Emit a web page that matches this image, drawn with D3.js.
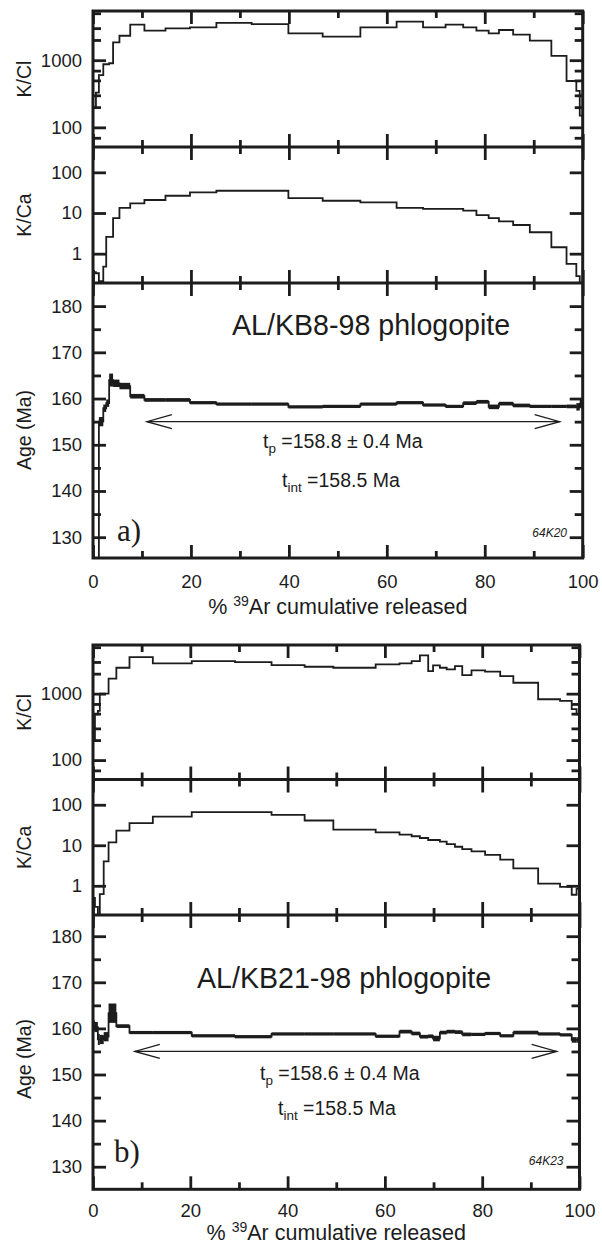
<!DOCTYPE html>
<html>
<head>
<meta charset="utf-8">
<script src="https://cdn.jsdelivr.net/npm/d3@7"></script>
<style>
  body { margin: 0; background: #fff; }
  svg { display: block; }
  text { fill: #1c1c1c; }
</style>
</head>
<body>
<svg id="chart" width="602" height="1247" font-family="'Liberation Sans', Arial, sans-serif"></svg>
<script>
// tick values
const xMajor = [0, 20, 40, 60, 80, 100];
const xMinor = [10, 30, 50, 70, 90];
const kclMajor = [100, 1000];
const kclMinor = [70, 200, 300, 500, 700, 2000, 3000, 5000];
const kcaMajor = [1, 10, 100];
const ageMajor = [130, 140, 150, 160, 170, 180];
const ageMinor = [135, 145, 155, 165, 175];

// sample a) AL/KB8-98 : step edges in % 39Ar, then one value per step
const stepsA = [0, 0.6, 1.2, 2.1, 2.7, 3.3, 4.1, 5.4, 7.6, 10.5, 14.8, 19.8, 25.2, 32.4, 39.9, 46.9, 54.6, 62.0, 67.4, 72.0,
  75.6, 78.3, 80.8, 82.9, 85.8, 89.2, 93.6, 96.7, 98.7, 99.4, 100];
const kclA = [200, 330, 600, 870, 870, 900, 1840, 2310, 3390, 2750, 2980, 3070, 3590, 3450, 2510, 2240, 3090, 3760, 3070, 3390,
  3070, 2750, 2510, 2815, 2400, 1950, 1160, 490, 350, 150];
const kcaA = [0.35, 0.33, 0.21, 0.48, 2.6, 2.6, 7.5, 13.3, 17.3, 20.9, 26.6, 32, 35.3, 35.3, 23.3, 20, 18.3, 13.3, 12.6, 12.6,
  11.4, 8.9, 7.5, 6.25, 5.07, 3.36, 1.44, 0.56, 0.28, 0.15];
const ageA = [100, 115, 155.0, 157.9, 159.0, 164.0, 163.3, 162.7, 160.5, 159.7, 159.7, 159.1, 158.8, 158.8, 158.2, 158.3, 158.8, 159.1, 158.6, 158.3,
  159.0, 159.3, 158.2, 158.9, 158.5, 158.3, 158.3, 158.3, 158.2, 158.9];
const errA = [3, 3, 1.0, 0.8, 0.8, 1.4, 0.8, 0.7, 0.5, 0.4, 0.4, 0.35, 0.35, 0.35, 0.35, 0.35, 0.35, 0.35, 0.35, 0.35,
  0.4, 0.4, 0.5, 0.4, 0.4, 0.35, 0.35, 0.4, 0.8, 1.0];

// sample b) AL/KB21-98
const stepsB = [0, 0.4, 1.0, 1.4, 2.2, 3.2, 4.8, 7.5, 12.3, 20.3, 29.2, 36.7, 43.5, 49.4, 58.1, 63.0, 65.5, 67.2, 68.9, 69.9,
  71.3, 72.7, 74.4, 75.9, 77.8, 80.6, 83.7, 86.4, 91.5, 96.0, 98.4, 99.4, 100];
const kclB = [200, 490, 550, 1000, 1000, 1680, 2455, 3550, 2860, 3090, 2990, 2690, 2540, 2455, 2760, 2860, 3090, 3770, 2190, 2660,
  2455, 2320, 2600, 1905, 2240, 2140, 1840, 1460, 824, 777, 583, 490];
const kcaB = [0.5, 0.3, 0.17, 0.62, 4.0, 11.8, 23, 35, 51, 65.6, 65.6, 56, 40.8, 24.4, 20.9, 18.3, 16.7, 15.1, 13.5, 13.5,
  12.3, 10.7, 9.2, 8.0, 7.05, 5.8, 4.4, 2.7, 1.13, 0.94, 0.6, 0.85];
const ageB = [160.5, 160.3, 157.6, 157.6, 158.2, 163.3, 160.5, 159.1, 159.1, 158.4, 158.2, 158.8, 158.8, 158.8, 158.3, 159.3, 158.9, 158.2, 158.3, 157.8,
  159.1, 159.3, 159.2, 158.7, 158.7, 158.9, 158.4, 159.1, 158.8, 158.6, 157.5, 157.5];
const errB = [1.2, 1.1, 1.2, 1.0, 1.0, 2.1, 0.4, 0.35, 0.35, 0.35, 0.35, 0.35, 0.35, 0.35, 0.35, 0.4, 0.4, 0.4, 0.4, 0.6,
  0.4, 0.4, 0.4, 0.4, 0.35, 0.35, 0.35, 0.4, 0.35, 0.35, 0.6, 0.6];

const sampleNames = ["AL/KB8-98 phlogopite", "AL/KB21-98 phlogopite"];
const plateauAges = ["158.8 ± 0.4", "158.6 ± 0.4"];
const integratedAges = ["158.5", "158.5"];
const runIds = ["64K20", "64K23"];
const panelTags = ["a)", "b)"];
const plateauSpan = [[11, 95.3, 155], [8.6, 95.3, 155]];

const kclDomain = [51, 5400];
const kcaDomain = [0.19, 420];

const ink = "#1c1c1c";
const svg = d3.select("#chart");

// layout of the two figures
const figs = [
  { l: 93, r: 582.7, t: 11, k1: 147, k2: 283, b: 558, ageDomain: [125.5, 185],
    titleX: 232, titleY: 335, tpX: 263, tpY: 448, tintX: 282, tintY: 487, tagX: 117, tagY: 541,
    idX: 567, idY: 537, xlabY: 588, xtitleY: 614, ageLabY: 430 },
  { l: 93, r: 579.5, t: 645, k1: 779.5, k2: 915, b: 1189.3, ageDomain: [125.1, 184.6],
    titleX: 197, titleY: 988, tpX: 260, tpY: 1080, tintX: 278, tintY: 1115, tagX: 114, tagY: 1162,
    idX: 563.5, idY: 1165, xlabY: 1217, xtitleY: 1240, ageLabY: 1059 }
];
const series = [
  { steps: stepsA, kcl: kclA, kca: kcaA, age: ageA, err: errA },
  { steps: stepsB, kcl: kclB, kca: kcaB, age: ageB, err: errB }
];

function styleAxis(sel, w) {
  sel.select(".domain").remove();
  sel.selectAll("line").attr("stroke", ink).attr("stroke-width", w);
  sel.attr("font-family", null).attr("font-size", 18.5);
  sel.selectAll("text").attr("fill", ink);
}

function drawFigure(f, d, k) {
  const g = svg.append("g");
  const x = d3.scaleLinear().domain([0, 100]).range([f.l, f.r]);
  const yKcl = d3.scaleLog().domain(kclDomain).range([f.k1, f.t]);
  const yKca = d3.scaleLog().domain(kcaDomain).range([f.k2, f.k1]);
  const yAge = d3.scaleLinear().domain(f.ageDomain).range([f.b, f.k2]);

  const panels = [
    { y: yKcl, top: f.t, bot: f.k1, major: kclMajor, minor: kclMinor, label: "K/Cl", ly: (f.t + f.k1) / 2, vals: d.kcl },
    { y: yKca, top: f.k1, bot: f.k2, major: kcaMajor, minor: [], label: "K/Ca", ly: (f.k1 + f.k2) / 2, vals: d.kca },
    { y: yAge, top: f.k2, bot: f.b, major: ageMajor, minor: ageMinor, label: "Age (Ma)", ly: f.ageLabY }
  ];

  panels.forEach((p, i) => {
    const id = `clip${k}${i}`;
    g.append("clipPath").attr("id", id).append("rect")
      .attr("x", f.l).attr("y", p.top).attr("width", f.r - f.l).attr("height", p.bot - p.top);

    // inward ticks on all four sides
    g.append("g").attr("transform", `translate(0,${p.bot})`)
      .call(d3.axisBottom(x).tickValues(xMajor).tickSize(-13).tickFormat("")).call(styleAxis, 2.8);
    g.append("g").attr("transform", `translate(0,${p.bot})`)
      .call(d3.axisBottom(x).tickValues(xMinor).tickSize(-7).tickFormat("")).call(styleAxis, 2.8);
    g.append("g").attr("transform", `translate(0,${p.top})`)
      .call(d3.axisTop(x).tickValues(xMajor).tickSize(-13).tickFormat("")).call(styleAxis, 2.8);
    g.append("g").attr("transform", `translate(0,${p.top})`)
      .call(d3.axisTop(x).tickValues(xMinor).tickSize(-7).tickFormat("")).call(styleAxis, 2.8);

    g.append("g").attr("transform", `translate(${f.l},0)`)
      .call(d3.axisLeft(p.y).tickValues(p.major).tickSize(-13).tickPadding(11).tickFormat(d3.format("d")))
      .call(styleAxis, 2.8);
    g.append("g").attr("transform", `translate(${f.l},0)`)
      .call(d3.axisLeft(p.y).tickValues(p.minor).tickSize(-8).tickFormat("")).call(styleAxis, 2.8);
    g.append("g").attr("transform", `translate(${f.r},0)`)
      .call(d3.axisRight(p.y).tickValues(p.major).tickSize(-13).tickFormat("")).call(styleAxis, 2.8);
    g.append("g").attr("transform", `translate(${f.r},0)`)
      .call(d3.axisRight(p.y).tickValues(p.minor).tickSize(-8).tickFormat("")).call(styleAxis, 2.8);

    g.append("text")
      .attr("transform", `translate(31,${p.ly}) rotate(-90)`)
      .attr("text-anchor", "middle").attr("font-size", 19.5).text(p.label);

    if (p.vals) {
      const pts = d.steps.slice(0, -1).map((s, j) => [s, p.vals[j]]);
      pts.push([100, p.vals[p.vals.length - 1]]);
      g.append("path").attr("clip-path", `url(#${id})`)
        .attr("d", d3.line().x(q => x(q[0])).y(q => p.y(q[1])).curve(d3.curveStepAfter)(pts))
        .attr("fill", "none").attr("stroke", ink).attr("stroke-width", 1.8);
    }
  });

  // age spectrum: error boxes joined by a step line
  const ag = g.append("g").attr("clip-path", `url(#clip${k}2)`);
  const pts = d.steps.slice(0, -1).map((s, j) => [s, d.age[j]]);
  pts.push([100, d.age[d.age.length - 1]]);
  ag.append("path")
    .attr("d", d3.line().x(q => x(q[0])).y(q => yAge(q[1])).curve(d3.curveStepAfter)(pts))
    .attr("fill", "none").attr("stroke", ink).attr("stroke-width", 1.8);
  ag.selectAll("rect").data(d.age).join("rect")
    .attr("x", (v, j) => x(d.steps[j]))
    .attr("width", (v, j) => x(d.steps[j + 1]) - x(d.steps[j]))
    .attr("y", (v, j) => Math.min(yAge(v + d.err[j]), yAge(v) - 1.6))
    .attr("height", (v, j) => Math.max(yAge(v - d.err[j]) - yAge(v + d.err[j]), 3.2))
    .attr("fill", ink);

  // frame
  g.append("rect").attr("x", f.l).attr("y", f.t).attr("width", f.r - f.l).attr("height", f.b - f.t)
    .attr("fill", "none").attr("stroke", ink).attr("stroke-width", 3);
  [f.k1, f.k2].forEach(yy => g.append("line").attr("x1", f.l).attr("x2", f.r).attr("y1", yy).attr("y2", yy)
    .attr("stroke", ink).attr("stroke-width", 3));

  // x tick labels
  g.append("g").attr("transform", `translate(0,${f.b})`)
    .call(d3.axisBottom(x).tickValues(xMajor).tickSize(0).tickPadding(f.xlabY - f.b - 13).tickFormat(d3.format("d")))
    .call(styleAxis, 0);

  // x title
  const xt = g.append("text").attr("x", (f.l + f.r) / 2).attr("y", f.xtitleY)
    .attr("text-anchor", "middle").attr("font-size", 21.5);
  xt.append("tspan").text("% ");
  xt.append("tspan").attr("font-size", 14).attr("dy", -8).text("39");
  xt.append("tspan").attr("dy", 8).text("Ar cumulative released");

  // plateau arrow
  const [a0, a1, av] = plateauSpan[k];
  const ay = yAge(av);
  g.append("line").attr("x1", x(a0)).attr("x2", x(a1)).attr("y1", ay).attr("y2", ay)
    .attr("stroke", ink).attr("stroke-width", 1.3);
  g.append("path").attr("d", `M${x(a0) + 25},${ay - 7}L${x(a0)},${ay}L${x(a0) + 25},${ay + 7}`)
    .attr("fill", "none").attr("stroke", ink).attr("stroke-width", 1.3);
  g.append("path").attr("d", `M${x(a1) - 25},${ay - 7}L${x(a1)},${ay}L${x(a1) - 25},${ay + 7}`)
    .attr("fill", "none").attr("stroke", ink).attr("stroke-width", 1.3);

  // annotations
  g.append("text").attr("x", f.titleX).attr("y", f.titleY).attr("font-size", 28.6).text(sampleNames[k]);

  const tp = g.append("text").attr("x", f.tpX).attr("y", f.tpY).attr("font-size", 19.5);
  tp.append("tspan").text("t");
  tp.append("tspan").attr("font-size", 13.5).attr("dy", 5).text("p");
  tp.append("tspan").attr("dy", -5).text(` =${plateauAges[k]} Ma`);

  const ti = g.append("text").attr("x", f.tintX).attr("y", f.tintY).attr("font-size", 19.5);
  ti.append("tspan").text("t");
  ti.append("tspan").attr("font-size", 13.5).attr("dy", 5).text("int");
  ti.append("tspan").attr("dy", -5).text(` =${integratedAges[k]} Ma`);

  g.append("text").attr("x", f.tagX).attr("y", f.tagY).attr("font-size", 31)
    .attr("font-family", "'Liberation Serif', 'Times New Roman', serif").text(panelTags[k]);

  g.append("text").attr("x", f.idX).attr("y", f.idY).attr("text-anchor", "end")
    .attr("font-size", 12).attr("font-style", "italic").text(runIds[k]);
}

figs.forEach((f, k) => drawFigure(f, series[k], k));
</script>
</body>
</html>
